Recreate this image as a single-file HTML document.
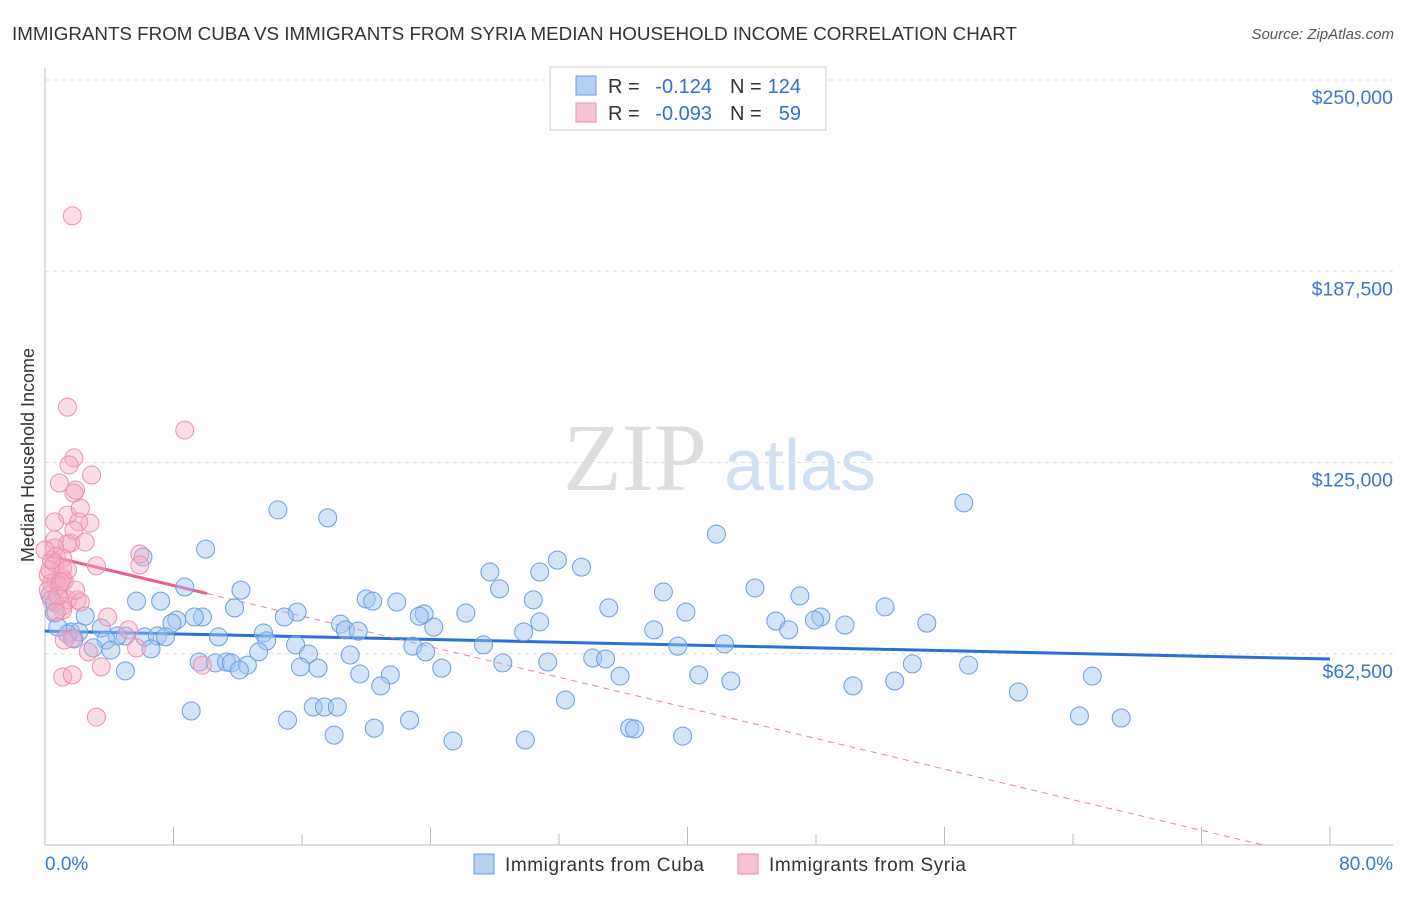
<!DOCTYPE html>
<html><head><meta charset="utf-8"><style>
body{margin:0;background:#fff;font-family:"Liberation Sans",sans-serif;}
</style></head><body>
<svg width="1406" height="892" xmlns="http://www.w3.org/2000/svg" id="chart">
<text x="12" y="40" font-size="18" fill="#333" textLength="1005" lengthAdjust="spacingAndGlyphs">IMMIGRANTS FROM CUBA VS IMMIGRANTS FROM SYRIA MEDIAN HOUSEHOLD INCOME CORRELATION CHART</text>
<text x="1394" y="39" font-size="15" fill="#555" font-style="italic" text-anchor="end">Source: ZipAtlas.com</text>
<g>
<text x="635" y="490" font-size="96" font-family="Liberation Serif" fill="#ddd" text-anchor="middle">ZIP</text>
<text x="800" y="490" font-size="72" fill="#cfe0f3" text-anchor="middle">atlas</text>
</g>
<g id="grid"></g>
<g id="axes"></g>
<g id="trend"></g>
<g id="pts"></g>
<text transform="translate(34,455) rotate(-90)" font-size="18" fill="#333" text-anchor="middle">Median Household Income</text>
<g font-size="20">
<rect x="550" y="67" width="276" height="63" fill="#fff" stroke="#ccc"/>
<rect x="576" y="76" width="20" height="19" fill="#b6d0f3" stroke="#6a9ee0"/>
<rect x="576" y="103" width="20" height="19" fill="#f8c4d5" stroke="#ea8fae"/>
<text x="608" y="93" fill="#333">R =</text>
<text x="712" y="93" fill="#2f6fd6" text-anchor="end">-0.124</text>
<text x="730" y="93" fill="#333">N =</text>
<text x="801" y="93" fill="#2f6fd6" text-anchor="end">124</text>
<text x="608" y="120" fill="#333">R =</text>
<text x="712" y="120" fill="#2f6fd6" text-anchor="end">-0.093</text>
<text x="730" y="120" fill="#333">N =</text>
<text x="801" y="120" fill="#2f6fd6" text-anchor="end">59</text>
</g>
<g>
<rect x="474" y="854" width="20" height="20" fill="#b6d0f3" stroke="#6a9ee0"/>
<text x="505" y="871" font-size="19" fill="#333" textLength="199">Immigrants from Cuba</text>
<rect x="738" y="854" width="20" height="20" fill="#f8c4d5" stroke="#ea8fae"/>
<text x="769" y="871" font-size="19" fill="#333" textLength="197">Immigrants from Syria</text>
</g>
</svg>
<script>
const yTicks=[62500,125000,187500,250000];
const yTickLabels=["$62,500","$125,000","$187,500","$250,000"];
const xTicks=[0,8,16,24,32,40,48,56,64,72,80];
const blueX=[14.5,17.6,57.2,41.8,10.0,6.1,31.9,33.4,27.7,30.8,8.7,12.2,28.3,44.2,38.5,47.0,30.4,5.7,7.2,20.0,20.4,21.9,35.1,15.7,11.8,26.2,39.9,52.3,23.6,23.3,0.6,2.5,9.8,8.2,7.9,9.3,18.4,14.9,30.8,48.3,47.9,45.5,49.8,54.9,24.2,18.7,19.5,3.5,1.6,2.1,1.4,37.9,29.8,46.3,13.6,13.8,10.8,5.0,4.5,6.2,7.0,7.5,3.8,1.8,3.0,6.6,4.1,15.6,27.3,22.9,16.4,19.0,13.3,23.7,39.4,42.3,34.1,34.9,31.3,28.5,9.6,10.6,11.3,11.6,12.6,15.9,17.0,12.1,24.7,19.6,21.5,35.8,40.7,42.7,54.0,57.5,65.2,5.0,20.9,50.3,52.9,60.6,32.4,9.1,16.7,17.4,18.2,15.1,22.7,20.5,18.0,25.4,29.9,36.4,36.7,39.7,64.4,67.0,0.8,0.3,0.6];
const blueY=[109.5,106.9,111.8,101.6,96.7,94.1,93.1,90.8,89.2,89.2,84.3,83.3,83.7,84.0,82.7,81.4,80.1,79.7,79.7,80.4,79.7,79.4,77.5,76.1,77.5,75.8,76.1,77.8,75.5,74.8,75.8,74.8,74.5,73.5,72.5,74.5,72.2,74.5,72.9,74.5,73.5,73.2,71.9,72.5,71.2,70.3,69.9,70.9,69.6,69.6,69.0,70.3,69.6,70.3,69.3,66.7,68.0,68.3,68.3,68.0,68.3,68.0,67.0,67.3,64.4,64.1,63.7,65.4,65.4,65.0,62.4,62.1,63.1,63.1,65.0,65.7,61.1,60.8,59.8,59.5,59.8,59.5,59.8,59.5,58.8,58.2,57.8,57.2,57.8,55.9,55.6,55.2,55.6,53.6,59.2,58.8,55.2,56.9,52.0,52.0,53.6,50.0,47.4,43.8,45.1,45.1,45.1,40.8,40.8,38.2,35.9,34.0,34.3,38.2,37.9,35.6,42.2,41.5,71.2,81.7,79.4];
const pinkX=[1.7,1.4,8.7,1.8,1.5,2.9,0.9,1.9,1.8,1.4,2.2,2.8,2.1,0.6,0.6,1.6,1.4,0.6,0.7,1.1,5.9,3.2,0.6,0.2,1.1,0.7,0.4,0.9,1.2,0.2,1.4,2.0,2.2,1.1,1.1,3.9,5.2,1.7,2.7,3.5,1.1,1.7,3.2,1.8,0.4,0.8,1.1,5.9,9.8,5.7,1.2,0.3,1.4,0.7,1.9,0.4,0.0,2.5,1.0];
const pinkY=[205.6,143.1,135.6,126.5,124.2,120.9,118.3,116.0,115.0,107.8,110.1,105.2,105.6,105.6,99.7,98.7,98.4,97.1,94.4,93.8,95.1,91.2,92.2,88.2,87.3,86.3,85.6,84.6,86.3,83.3,80.1,80.1,79.4,78.1,76.8,74.5,70.3,67.6,63.1,58.2,54.9,55.6,41.8,102.9,80.1,81.4,90.5,91.5,58.8,64.4,67.0,89.9,89.9,76.1,83.3,93.1,96.4,99.0,86.0];
const blueTrend=[69.9,-0.114];
const pinkTrend=[94.8,-1.25];
const pinkSolidEnd=10.1;
const X=v=>45+v*16.0625, Y=k=>845-k*1000*765/250000;
const NS="http://www.w3.org/2000/svg";
function mk(p,t,a){const e=document.createElementNS(NS,t);for(const k in a)e.setAttribute(k,a[k]);document.getElementById(p).appendChild(e);return e;}
yTicks.forEach((t,i)=>{
 const g=mk('grid','line',{x1:45,x2:1393,y1:Y(t/1000),y2:Y(t/1000),stroke:'#ddd','stroke-dasharray':'4,4'});
 
 
 const l=mk('axes','text',{x:1393,y:Y(t/1000)+24,'font-size':19.5,fill:'#3a75d0','text-anchor':'end'});
 l.textContent=yTickLabels[i];
 
 
});
const ax=mk('axes','line',{x1:45,x2:1393,y1:845,y2:845,stroke:'#bbb'});


const ay=mk('axes','line',{x1:45,x2:45,y1:68,y2:845,stroke:'#bbb'});


xTicks.forEach((t,i)=>{
 const big=(i===0||i===xTicks.length-1||i%2===1);
 const tk=mk('axes','line',{x1:X(t),x2:X(t),y1:big?827:834,y2:845,stroke:'#bbb'});
 
 
});
const x0=mk('axes','text',{x:45,y:870,'font-size':19,fill:'#3a75d0'});x0.textContent='0.0%';


const x1=mk('axes','text',{x:1393,y:870,'font-size':19,fill:'#3a75d0','text-anchor':'end'});x1.textContent='80.0%';


blueX.forEach((x,i)=>{const c=mk('pts','circle',{cx:X(x),cy:Y(blueY[i]),r:9,fill:'rgba(160,196,240,0.45)',stroke:'#6a9ee0','stroke-width':1});
 
 });
pinkX.forEach((x,i)=>{const c=mk('pts','circle',{cx:X(x),cy:Y(pinkY[i]),r:9,fill:'rgba(245,170,195,0.4)',stroke:'#ea8fae','stroke-width':1});
 
 });
const bt=mk('trend','line',{x1:X(0),y1:Y(blueTrend[0]),x2:X(80),y2:Y(blueTrend[0]+blueTrend[1]*80),stroke:'#2a6fd6','stroke-width':3});


const xz=-pinkTrend[0]/pinkTrend[1];
const pd=mk('trend','line',{x1:X(pinkSolidEnd),y1:Y(pinkTrend[0]+pinkTrend[1]*pinkSolidEnd),x2:X(xz),y2:Y(0),stroke:'#e8819f','stroke-width':1,'stroke-dasharray':'6,5'});


const ps=mk('trend','line',{x1:X(0),y1:Y(pinkTrend[0]),x2:X(pinkSolidEnd),y2:Y(pinkTrend[0]+pinkTrend[1]*pinkSolidEnd),stroke:'#e8608a','stroke-width':3});


</script>
</body></html>
